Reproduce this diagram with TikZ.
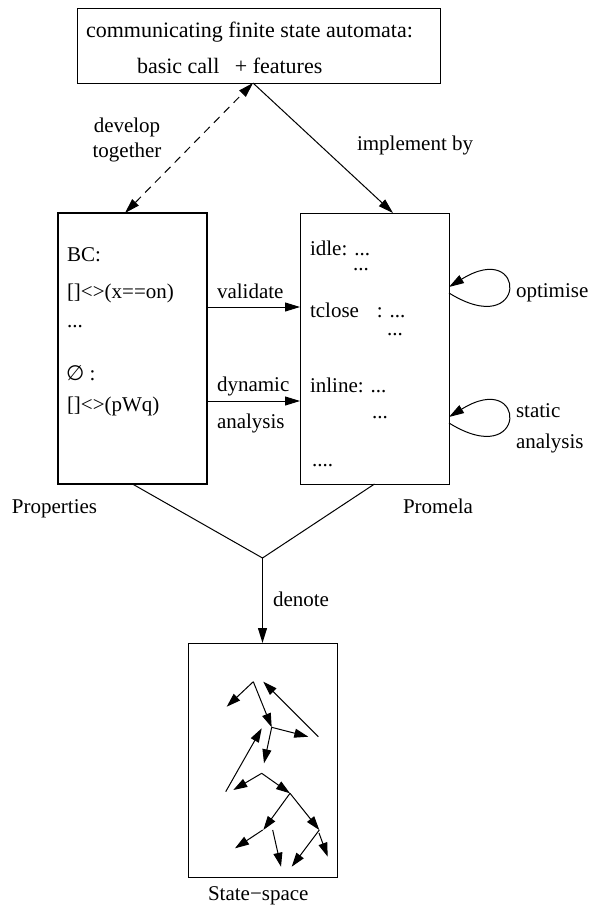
\documentclass[tikz,border=0pt]{standalone}
\usepackage{fontspec}
\setmainfont{Liberation Serif}
\newfontfamily\dvs{DejaVu Sans}
\usetikzlibrary{arrows.meta,calc}
\begin{document}
\begin{tikzpicture}[x=1pt,y=-1pt,
  every node/.style={inner sep=0pt,outer sep=0pt},
  txt/.style={font=\fontsize{21}{25}\selectfont,anchor=base west},
  bigtxt/.style={font=\fontsize{22}{26}\selectfont,anchor=base west},
  dots/.style={txt,text height=3pt,text depth=0pt},
  box/.style={draw,line width=1pt,minimum width=149pt},
  conn/.style={line width=1pt,-{Triangle[length=15pt,width=9pt]}},
  sarr/.style={line width=1pt,-{Triangle[length=14pt,width=9pt]}}]
\useasboundingbox (0,0) rectangle (593,911);
% boxes
\node[box,minimum width=363pt,minimum height=75pt] (top) at (258.5,45.5) {};
\node[box,line width=2pt,minimum height=271pt] (props) at (132.5,348.5) {};
\node[box,minimum height=271pt] (prom) at (374.5,348.5) {};
\node[box,minimum height=234pt] (state) at (262.5,760) {};
% top texts
\node[bigtxt] (t1) at (86,37) {communicating finite state automata:};
\node[bigtxt] (t2) at (137,73) {basic call\hspace{0.45em} + features};
% labels
\node[txt,anchor=base] (dev) at (127,132) {develop};
\node[txt,anchor=base] (tog) at (127,157) {together};
\node[txt] (impl) at (357,150) {implement by};
% properties text
\node[txt] (p1) at (67,261) {BC:};
\node[txt] (p2) at (67,298) {[]<>(x==on)};
\node[dots] (p3) at (67,327) {...};
\node[txt] (p4) at (66,380) {{\dvs\fontsize{21}{25}\selectfont ∅} :};
\node[txt] (p5) at (67,411) {[]<>(pWq)};
% promela text
\node[txt] (q1) at (310,255) {idle: ...};
\node[dots] (q2) at (353,270) {...};
\node[txt] (q3) at (310,317) {tclose\hspace{0.6em} : ...};
\node[dots] (q4) at (387,335) {...};
\node[txt] (q5) at (310,392) {inline: ...};
\node[dots] (q6) at (372,418) {...};
\node[dots] (q7) at (312,466) {....};
% middle labels
\node[txt] (val) at (217,298) {validate};
\node[txt] (dyn) at (217,391) {dynamic};
\node[txt] (ana) at (217,428) {analysis};
\node[txt] (opt) at (516,297) {optimise};
\node[txt] (sta) at (516,417) {static};
\node[txt] (sta2) at (516,448) {analysis};
\node[txt] (propl) at (12,513) {Properties};
\node[txt] (proml) at (403,513) {Promela};
\node[txt] (den) at (273,606) {denote};
\node[txt] (ssl) at (208,900) {State−space};
% connectors
\coordinate (apex) at ($(top.south west)+(176,0)$);
\coordinate (pin) at ($(props.north west)+(67,0)$);
\coordinate (qin) at ($(prom.north west)+(93,0)$);
\draw[conn,{Triangle[length=15pt,width=9pt]}-{Triangle[length=15pt,width=9pt]},dash pattern=on 8pt off 6pt] (pin) -- (apex);
\draw[conn] (apex) -- (qin);
\draw[conn] (props.east |- 0,307) -- (prom.west |- 0,307);
\draw[conn] (props.east |- 0,401) -- (prom.west |- 0,401);
\coordinate (l1a) at (prom.east |- 0,293);
\coordinate (l1b) at (prom.east |- 0,287);
\coordinate (l2a) at (prom.east |- 0,423);
\coordinate (l2b) at (prom.east |- 0,417);
\draw[conn] (l1a) .. controls (528,342) and (528,238) .. (l1b);
\draw[conn] (l2a) .. controls (528,472) and (528,368) .. (l2b);
\coordinate (jn) at (262.5,558);
\draw[line width=1pt] (props.south) -- (jn) -- (prom.south);
\draw[conn] (jn) -- (state.north);
% state space arrows
\coordinate (s1) at (253.3,681.7);
\coordinate (s2) at (226.7,706.7);
\coordinate (s3) at (271.7,727.3);
\coordinate (s4) at (318.3,736.7);
\coordinate (s5) at (263.3,681.7);
\coordinate (s6) at (308.3,736.7);
\coordinate (s7) at (264,763.3);
\coordinate (s8) at (225.7,791.7);
\coordinate (s9) at (261.7,728.3);
\coordinate (s10) at (261.7,773.3);
\coordinate (s11) at (233.3,790);
\coordinate (s12) at (290,793.3);
\coordinate (s13) at (263.3,830);
\coordinate (s14) at (319.3,830);
\coordinate (s15) at (262.7,830);
\coordinate (s16) at (235,848.3);
\coordinate (s17) at (272.7,830);
\coordinate (s18) at (281,866.7);
\coordinate (s19) at (291.7,866.7);
\coordinate (s20) at (319,833);
\coordinate (s21) at (327.7,856.7);
\draw[sarr] (s1) -- (s2);
\draw[sarr] (s1) -- (s3);
\draw[sarr] (s4) -- (s5);
\draw[sarr] (s3) -- (s6);
\draw[sarr] (s3) -- (s7);
\draw[sarr] (s8) -- (s9);
\draw[sarr] (s10) -- (s11);
\draw[sarr] (s10) -- (s12);
\draw[sarr] (s12) -- (s13);
\draw[sarr] (s12) -- (s14);
\draw[sarr] (s15) -- (s16);
\draw[sarr] (s17) -- (s18);
\draw[sarr] (s14) -- (s19);
\draw[sarr] (s20) -- (s21);
\end{tikzpicture}
\end{document}
